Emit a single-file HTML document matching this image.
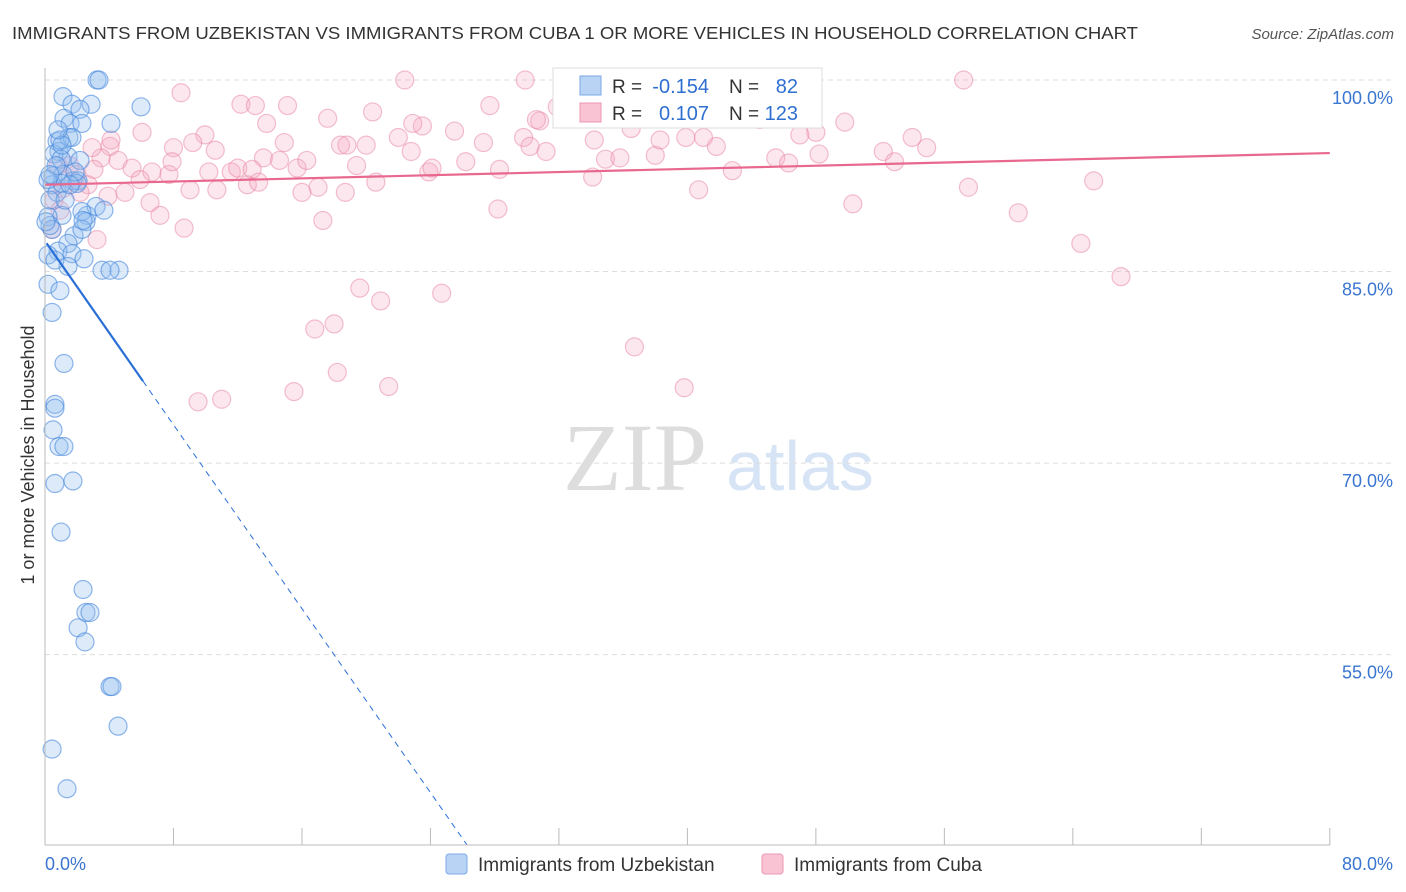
<!DOCTYPE html>
<html><head><meta charset="utf-8"><style>
body{margin:0;background:#fff;font-family:"Liberation Sans",sans-serif;}
#wrap{position:relative;width:1406px;height:892px;overflow:hidden;}
</style></head><body>
<div id="wrap">
<svg id="chart" width="1406" height="892">
<text x="12" y="39" font-size="17.5" fill="#333" textLength="1126" lengthAdjust="spacingAndGlyphs">IMMIGRANTS FROM UZBEKISTAN VS IMMIGRANTS FROM CUBA 1 OR MORE VEHICLES IN HOUSEHOLD CORRELATION CHART</text>
<text x="1394" y="39" font-size="15" fill="#555" text-anchor="end" font-style="italic">Source: ZipAtlas.com</text>
<text x="635" y="490" font-size="96" fill="#ddd" text-anchor="middle" font-family="Liberation Serif,serif">ZIP</text>
<text x="800" y="490" font-size="70" fill="#d6e4f6" text-anchor="middle">atlas</text>
<g id="grid"></g><g id="pts"></g><g id="lines"></g><g id="axes"></g>
<text transform="translate(34,455) rotate(-90)" font-size="18" fill="#333" text-anchor="middle">1 or more Vehicles in Household</text>
<g>
<rect x="553" y="68" width="269" height="60" fill="#fff" stroke="#ddd"/>
<rect x="580" y="76" width="21" height="19" fill="#b9d3f5" stroke="#7aa9e6"/>
<rect x="580" y="103" width="21" height="19" fill="#f9c3d3" stroke="#ee97b2"/>
<text x="612" y="93" font-size="19" fill="#333">R =</text>
<text x="709" y="93" font-size="20" fill="#2f6fd1" text-anchor="end">-0.154</text>
<text x="729" y="93" font-size="19" fill="#333">N =</text>
<text x="798" y="93" font-size="20" fill="#2f6fd1" text-anchor="end">82</text>
<text x="612" y="120" font-size="19" fill="#333">R =</text>
<text x="709" y="120" font-size="20" fill="#2f6fd1" text-anchor="end">0.107</text>
<text x="729" y="120" font-size="19" fill="#333">N =</text>
<text x="798" y="120" font-size="20" fill="#2f6fd1" text-anchor="end">123</text>
</g>
<g>
<rect x="446" y="854" width="21" height="20" rx="3" fill="#b9d3f5" stroke="#7aa9e6"/>
<text x="478" y="871" font-size="19" fill="#333">Immigrants from Uzbekistan</text>
<rect x="762" y="854" width="21" height="20" rx="3" fill="#f9c3d3" stroke="#ee97b2"/>
<text x="794" y="871" font-size="19" fill="#333">Immigrants from Cuba</text>
</g>
</svg>
</div>
<script>
const blueX=[3.24,3.36,5.98,4.11,1.12,1.68,2.87,2.18,1.18,1.56,2.30,0.75,1.49,1.68,0.87,1.43,2.18,0.56,1.0,0.5,1.12,1.74,2.06,0.44,0.75,2.0,1.06,2.62,3.18,3.67,2.30,2.55,1.06,0.19,0.44,0.31,1.81,2.30,1.43,0.81,1.68,2.43,3.55,4.61,1.43,0.19,0.93,0.44,1.18,0.62,0.62,0.5,0.87,1.18,0.62,1.74,1.0,2.37,2.55,2.80,2.06,2.49,4.05,4.17,4.55,0.44,1.37,0.19,0.19,0.31,0.69,1.25,1.87,2.37,4.05,0.93,0.06,0.31,1.56,0.62,1.06,0.81];
const blueY=[100,100,97.9,96.6,98.7,98.1,98.1,97.7,97.0,96.6,96.6,95.2,95.5,95.5,94.4,94.0,93.7,94.2,93.8,92.5,92.6,92.1,92.1,91.8,91.2,91.9,91.9,89.4,90.1,89.8,89.7,88.9,89.4,89.3,88.3,88.6,87.8,88.3,87.2,86.6,86.4,86.0,85.1,85.1,85.4,84.0,83.5,81.8,77.8,74.6,74.3,72.6,71.3,71.3,68.4,68.6,64.6,60.1,58.3,58.3,57.1,56.0,52.5,52.5,49.4,47.6,44.5,86.3,92.2,90.6,93.3,90.6,92.8,89.0,85.1,95.3,88.9,92.6,91.8,85.9,94.9,96.1];
const pinkX=[8.47,12.2,13.1,15.1,22.4,29.9,32.3,57.2,20.4,17.6,27.7,31.9,35.4,30.8,30.6,45.6,46.0,48.0,49.8,6.04,9.96,13.8,14.9,4.05,10.6,9.2,8.0,23.5,22.9,22.0,18.4,20.0,22.8,26.2,27.3,29.8,31.2,34.9,35.8,38.0,38.3,39.9,41.8,45.5,46.3,48.2,52.2,54.0,54.9,52.9,42.8,41.0,36.5,3.49,4.55,5.42,6.66,7.72,7.91,9.03,10.7,11.6,12.6,13.3,13.6,14.6,15.7,16.3,17.0,16.0,18.7,19.4,20.6,23.9,24.1,28.3,34.1,40.7,57.5,65.3,60.6,64.5,67.0,50.3,28.2,17.3,7.16,8.66,6.54,3.24,3.92,4.98,2.68,1.93,2.18,1.12,0.56,0.81,2.93,1.56,19.6,20.9,24.7,16.8,18.0,36.7,18.2,15.5,21.4,39.8,11.0,9.53,0.44,0.93,4.11,12.0,5.92,25.5,34.2,38.5,47.0,44.5,30.2,18.8,12.9,10.2,3.05];
const pinkY=[99.0,98.1,98.0,98.0,100,100,100,100,97.5,97.0,98.0,97.9,98.0,96.8,96.9,97.5,97.9,95.9,96.7,95.9,95.7,96.6,95.1,94.8,94.5,95.1,94.7,96.4,96.6,95.5,94.9,94.9,94.4,93.6,95.1,95.5,94.4,93.8,93.9,94.1,95.3,95.5,94.8,93.9,93.5,94.2,94.4,95.5,94.7,93.6,92.9,95.5,96.2,93.9,93.7,93.1,92.8,92.6,93.6,91.4,91.4,92.8,91.8,92.0,93.9,93.7,93.1,93.7,91.6,91.2,91.2,93.3,92.0,92.8,93.1,93.0,92.4,91.4,91.6,92.1,89.6,87.2,84.6,90.3,89.9,89.0,89.4,88.4,90.4,87.5,90.9,91.2,91.8,92.6,91.2,91.5,90.6,93.3,94.7,93.3,83.7,82.7,83.3,80.5,80.9,79.1,77.1,75.6,76.0,75.9,75.0,74.8,88.3,89.8,95.3,93.1,92.2,96.0,95.3,98.2,95.7,96.9,94.8,94.9,93.0,92.8,93.0];
const yTicks=[100,85,70,55];
const xTickLabels=["0.0%","80.0%"];
const blueTrend=[87.4,-1.8];
const blueSolidEnd=6.1;
const pinkTrend=[91.8,0.031];

const NS="http://www.w3.org/2000/svg";
const X=v=>45+v*16.06, Y=v=>80+(100-v)*12.77;
function mk(t,a,p){const e=document.createElementNS(NS,t);for(const k in a)e.setAttribute(k,a[k]);p.appendChild(e);return e;}
const grid=document.getElementById('grid'),pts=document.getElementById('pts'),lines=document.getElementById('lines'),axes=document.getElementById('axes');
yTicks.forEach(v=>{
 const l=mk('line',{x1:45,x2:1394,y1:Y(v),y2:Y(v),stroke:'#ddd','stroke-dasharray':'5,4'},grid);
 
 
 const t=mk('text',{x:1393,y:Y(v)+24,'font-size':18,fill:'#3a75d0','text-anchor':'end'},axes);
 t.textContent=v.toFixed(1)+'%';
 
 
});
mk('line',{x1:45,x2:45,y1:68,y2:845,stroke:'#bbb'},axes);
mk('line',{x1:45,x2:1330,y1:845,y2:845,stroke:'#bbb'},axes);
for(let i=0;i<=10;i++){mk('line',{x1:X(i*8),x2:X(i*8),y1:828,y2:845,stroke:'#bbb'},axes);}
const t0=mk('text',{x:45,y:870,'font-size':18,fill:'#3a75d0'},axes);t0.textContent=xTickLabels[0];


const t1=mk('text',{x:1393,y:870,'font-size':18,fill:'#3a75d0','text-anchor':'end'},axes);t1.textContent=xTickLabels[1];


pinkX.forEach((x,i)=>{
 const c=mk('circle',{cx:X(x),cy:Y(pinkY[i]),r:9,fill:'rgba(246,170,195,0.28)',stroke:'rgba(232,130,160,0.5)','stroke-width':1.2},pts);
 
 
});
blueX.forEach((x,i)=>{
 const c=mk('circle',{cx:X(x),cy:Y(blueY[i]),r:9,fill:'rgba(150,190,240,0.33)',stroke:'rgba(70,135,220,0.6)','stroke-width':1.2},pts);
 
 
});
const bY=x=>blueTrend[0]+blueTrend[1]*x;
const bs=mk('line',{x1:X(0.1),y1:Y(bY(0.1)),x2:X(blueSolidEnd),y2:Y(bY(blueSolidEnd)),stroke:'#2a6fd6','stroke-width':2.2},lines);


const yEnd=100-(845-80)/12.77, xEnd=(yEnd-blueTrend[0])/blueTrend[1];
const bd=mk('line',{x1:X(blueSolidEnd),y1:Y(bY(blueSolidEnd)),x2:X(xEnd),y2:845,stroke:'#2a6fd6','stroke-width':1,'stroke-dasharray':'6,5'},lines);


const pl=mk('line',{x1:X(0),y1:Y(pinkTrend[0]),x2:X(80),y2:Y(pinkTrend[0]+pinkTrend[1]*80),stroke:'#e8688f','stroke-width':2.2},lines);


</script>
</body></html>
